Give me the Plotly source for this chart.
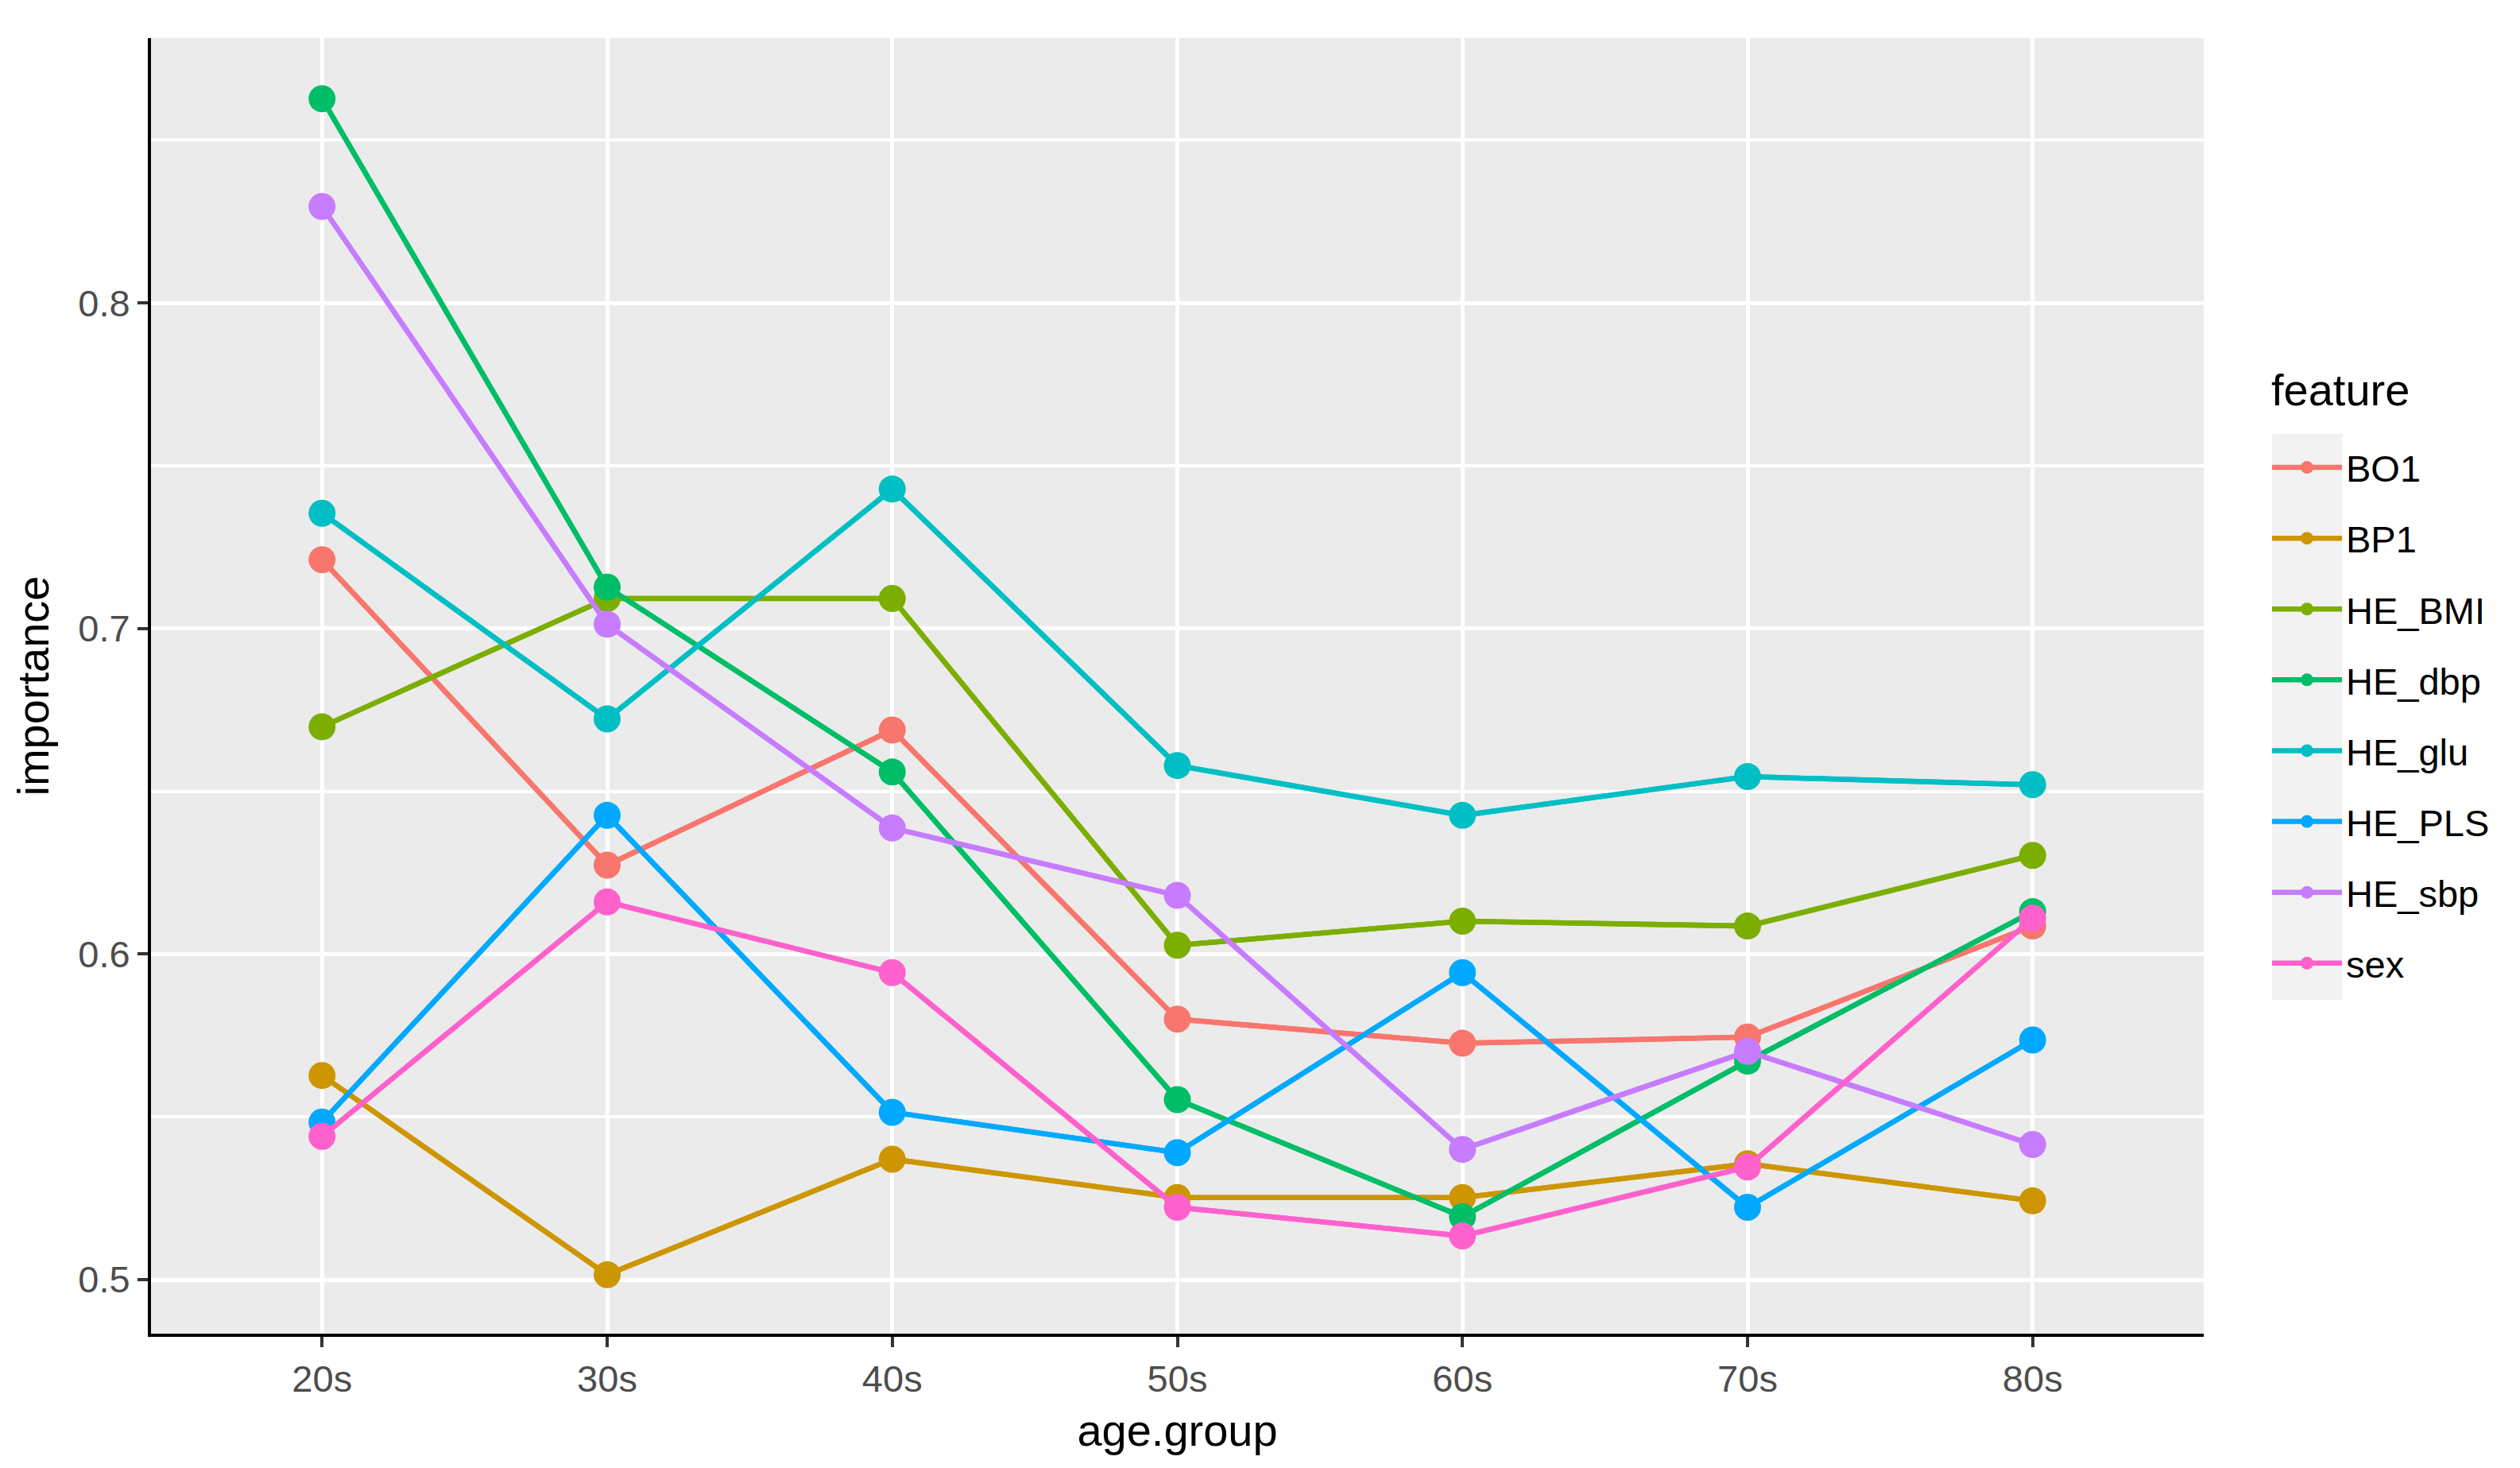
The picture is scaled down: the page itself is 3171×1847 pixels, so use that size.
import plotly.graph_objects as go

age_groups = ["20s", "30s", "40s", "50s", "60s", "70s", "80s"]
features = ["BO1", "BP1", "HE_BMI", "HE_dbp", "HE_glu", "HE_PLS", "HE_sbp", "sex"]
colors = ["#F8766D", "#CD9600", "#7CAE00", "#00BE67", "#00BFC4", "#00A9FF", "#C77CFF", "#FF61CC"]

BO1 = [0.7211, 0.6273, 0.6688, 0.5800, 0.5726, 0.5745, 0.6086]
BP1 = [0.5627, 0.5015, 0.5370, 0.5252, 0.5252, 0.5356, 0.5242]
HE_BMI = [0.6698, 0.7092, 0.7092, 0.6027, 0.6101, 0.6086, 0.6303]
HE_dbp = [0.8627, 0.7127, 0.6559, 0.5553, 0.5193, 0.5671, 0.6130]
HE_glu = [0.7354, 0.6722, 0.7428, 0.6579, 0.6426, 0.6545, 0.6520]
HE_PLS = [0.5484, 0.6426, 0.5514, 0.5390, 0.5943, 0.5222, 0.5736]
HE_sbp = [0.8296, 0.7013, 0.6387, 0.6180, 0.5400, 0.5701, 0.5415]
sex = [0.5440, 0.6160, 0.5943, 0.5222, 0.5134, 0.5346, 0.6110]

series = [BO1, BP1, HE_BMI, HE_dbp, HE_glu, HE_PLS, HE_sbp, sex]

y_ticks = [0.5, 0.6, 0.7, 0.8]
y_minor = [0.55, 0.65, 0.75, 0.85]

W, H = 3171, 1847
L, R, T, B = 182, 2765, 40, 1670

fig = go.Figure()
for name, vals, col in zip(features, series, colors):
    fig.add_trace(go.Scatter(x=age_groups, y=vals, mode="lines", name=name,
                             line=dict(color=col, width=6.5), showlegend=False,
                             hoverinfo="skip"))
for name, vals, col in zip(features, series, colors):
    fig.add_trace(go.Scatter(x=age_groups, y=vals, mode="lines+markers", name=name,
                             line=dict(color=col, width=6.5),
                             marker=dict(color=col, size=34),
                             legendgroup=name))

font = "Liberation Sans, Arial, sans-serif"

def px2paper_x(px):
    return (px - L) / (R - L)

def px2paper_y(py):
    return 1 - (py - T) / (B - T)

fig.add_shape(type="rect", xref="paper", yref="paper",
              x0=px2paper_x(2851), x1=px2paper_x(2940),
              y0=px2paper_y(1250), y1=px2paper_y(538),
              fillcolor="#F2F2F2", line=dict(width=0), layer="below")

fig.add_annotation(text="feature", xref="paper", yref="paper",
                   x=px2paper_x(2848), y=px2paper_y(482), xanchor="left", yanchor="middle",
                   showarrow=False, font=dict(size=56, color="black", family=font))

fig.update_layout(
    width=W, height=H,
    margin=dict(l=L, r=W - R, t=T, b=H - B, pad=0),
    paper_bgcolor="white",
    plot_bgcolor="#EBEBEB",
    font=dict(family=font, size=47, color="black"),
    showlegend=True,
    legend=dict(
        x=px2paper_x(2846), y=px2paper_y(543), xanchor="left", yanchor="top",
        bgcolor="rgba(0,0,0,0)", font=dict(size=47, color="black"),
        tracegroupgap=25, itemwidth=88, traceorder="grouped",
    ),
    xaxis=dict(
        type="category", categoryorder="array", categoryarray=age_groups,
        range=[-0.6, 6.6], showgrid=True, gridcolor="white", gridwidth=4.5,
        showline=True, linecolor="black", linewidth=4, mirror=False,
        ticks="outside", ticklen=13, tickwidth=4, tickcolor="#333333",
        tickfont=dict(size=47, color="#4D4D4D", family=font),
        title=dict(text="age.group", font=dict(size=56, color="black"), standoff=20),
        zeroline=False, automargin=False,
    ),
    yaxis=dict(
        range=[0.4834, 0.8813], tickvals=y_ticks, ticktext=[str(v) for v in y_ticks],
        showgrid=True, gridcolor="white", gridwidth=4.5,
        minor=dict(tickvals=y_minor, showgrid=True, gridcolor="white", gridwidth=3.5, ticks=""),
        showline=True, linecolor="black", linewidth=4, mirror=False,
        ticks="outside", ticklen=13, tickwidth=4, tickcolor="#333333",
        tickfont=dict(size=47, color="#4D4D4D", family=font),
        title=dict(text="importance", font=dict(size=56, color="black"), standoff=20),
        zeroline=False, automargin=False,
    ),
)

fig.write_html("out.html")
